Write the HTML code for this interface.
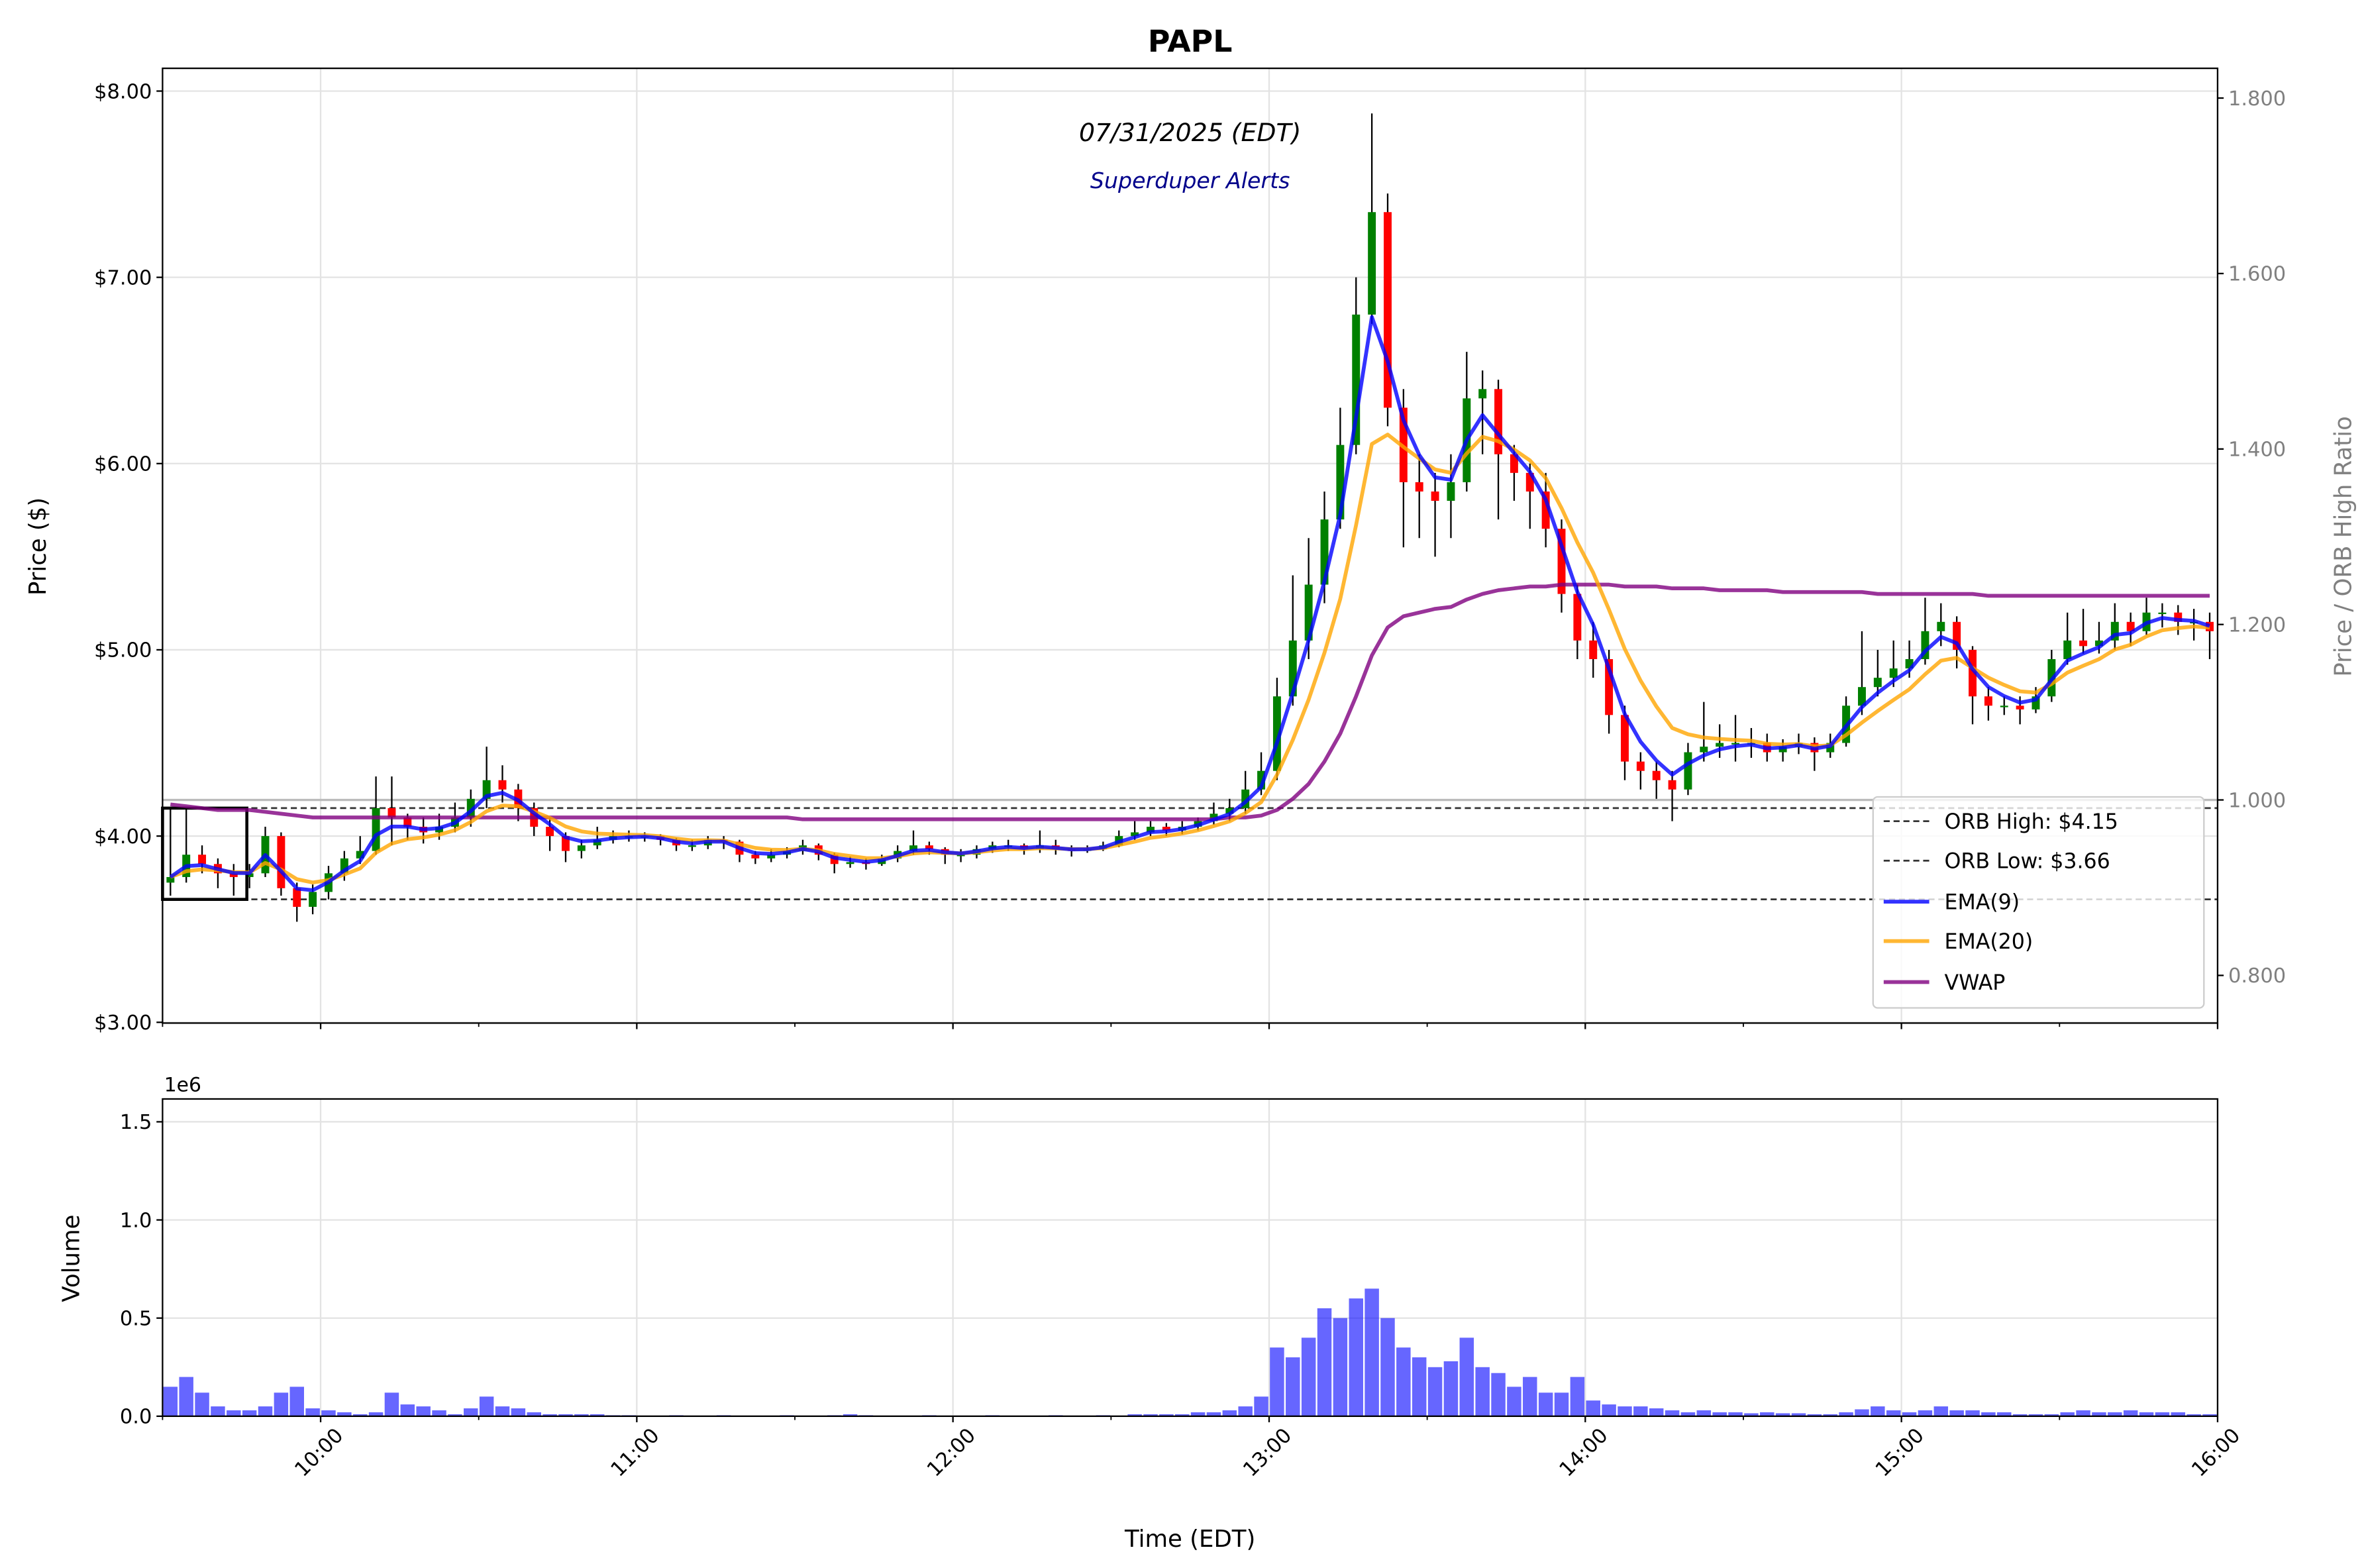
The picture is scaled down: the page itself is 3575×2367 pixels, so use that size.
<!DOCTYPE html>
<html><head><meta charset="utf-8"><title>PAPL</title>
<style>html,body{margin:0;padding:0;background:#fff}svg{display:block}text{font-family:"DejaVu Sans","Liberation Sans",sans-serif}</style>
</head><body>
<svg id="chart" width="3575" height="2367" viewBox="0 0 1560 1033" xmlns="http://www.w3.org/2000/svg">
<rect x="0" y="0" width="1560" height="1033" fill="#fff"/>
<g id="grid"></g>
<g id="marks"></g>
<g id="axes"></g>
<text x="784" y="34" text-anchor="middle" font-size="20" font-weight="bold">PAPL</text>
<text x="784" y="93" text-anchor="middle" font-size="16.5" font-style="italic">07/31/2025 (EDT)</text>
<text x="784" y="124" text-anchor="middle" font-size="14.5" font-style="italic" fill="#00008b">Superduper Alerts</text>
<text transform="translate(30,360) rotate(-90)" text-anchor="middle" font-size="15.5">Price ($)</text>
<text transform="translate(1549,360) rotate(-90)" text-anchor="middle" font-size="15.5" fill="#808080">Price / ORB High Ratio</text>
<text transform="translate(52,829) rotate(-90)" text-anchor="middle" font-size="15.5">Volume</text>
<text x="108" y="719" font-size="13">1e6</text>
<text x="784" y="1019" text-anchor="middle" font-size="15.5">Time (EDT)</text>
<g>
<rect x="1234" y="525" width="218" height="139" rx="3" fill="#fff" fill-opacity="0.8" stroke="#ccc" stroke-width="1"/>
<line x1="1241" y1="541" x2="1271" y2="541" stroke="#333" stroke-width="1.2" stroke-dasharray="4,2.5"/>
<text x="1281" y="546" font-size="13.8">ORB High: $4.15</text>
<line x1="1241" y1="567" x2="1271" y2="567" stroke="#333" stroke-width="1.2" stroke-dasharray="4,2.5"/>
<text x="1281" y="572" font-size="13.8">ORB Low: $3.66</text>
<line x1="1241" y1="594" x2="1271" y2="594" stroke="#0000ff" stroke-opacity="0.8" stroke-width="2.5"/>
<text x="1281" y="599" font-size="13.8">EMA(9)</text>
<line x1="1241" y1="620" x2="1271" y2="620" stroke="#ffa500" stroke-opacity="0.8" stroke-width="2.5"/>
<text x="1281" y="625" font-size="13.8">EMA(20)</text>
<line x1="1241" y1="647" x2="1271" y2="647" stroke="#800080" stroke-opacity="0.8" stroke-width="2.5"/>
<text x="1281" y="652" font-size="13.8">VWAP</text>
</g>
</svg>
<script>
const barMinutes = 3;
const closes = [3.78,3.90,3.85,3.80,3.78,3.80,4.00,3.72,3.62,3.70,
3.80,3.88,3.92,4.15,4.10,4.05,4.02,4.05,4.10,4.20,
4.30,4.25,4.15,4.05,4.00,3.92,3.95,3.98,4.00,4.00,
4.00,3.98,3.95,3.95,3.98,3.97,3.90,3.88,3.90,3.92,
3.95,3.90,3.85,3.86,3.85,3.88,3.92,3.95,3.93,3.90,
3.90,3.93,3.95,3.95,3.93,3.95,3.93,3.92,3.93,3.95,
4.00,4.02,4.05,4.03,4.05,4.08,4.12,4.15,4.25,4.35,
4.75,5.05,5.35,5.70,6.10,6.80,7.35,6.30,5.90,5.85,
5.80,5.90,6.35,6.40,6.05,5.95,5.85,5.65,5.30,5.05,
4.95,4.65,4.40,4.35,4.30,4.25,4.45,4.48,4.50,4.50,
4.50,4.45,4.48,4.50,4.45,4.50,4.70,4.80,4.85,4.90,
4.95,5.10,5.15,5.00,4.75,4.70,4.70,4.68,4.75,4.95,
5.05,5.02,5.05,5.15,5.10,5.20,5.20,5.15,5.15,5.10];
const highs = [4.15,4.15,3.95,3.88,3.85,3.85,4.05,4.02,3.75,3.74,
3.84,3.92,4.00,4.32,4.32,4.12,4.10,4.12,4.18,4.25,
4.48,4.38,4.28,4.18,4.10,4.02,3.98,4.05,4.03,4.03,
4.02,4.01,3.99,3.98,4.00,4.00,3.98,3.92,3.93,3.94,
3.98,3.96,3.91,3.89,3.88,3.90,3.95,4.03,3.97,3.94,
3.93,3.95,3.97,3.98,3.96,4.03,3.98,3.95,3.95,3.97,
4.03,4.08,4.08,4.07,4.08,4.10,4.18,4.20,4.35,4.45,
4.85,5.40,5.60,5.85,6.30,7.00,7.88,7.45,6.40,6.05,
5.95,6.05,6.60,6.50,6.45,6.10,6.00,5.95,5.70,5.35,
5.15,5.00,4.70,4.45,4.40,4.35,4.50,4.72,4.60,4.65,
4.58,4.55,4.52,4.55,4.53,4.55,4.75,5.10,5.00,5.05,
5.05,5.28,5.25,5.18,5.02,4.80,4.75,4.75,4.80,5.00,
5.20,5.22,5.15,5.25,5.20,5.28,5.25,5.24,5.22,5.20];
const lows = [3.68,3.75,3.80,3.72,3.68,3.72,3.78,3.68,3.54,3.58,
3.66,3.76,3.85,3.90,3.95,3.98,3.96,3.98,4.02,4.05,
4.15,4.18,4.08,4.00,3.92,3.86,3.88,3.93,3.96,3.97,
3.97,3.95,3.92,3.92,3.93,3.93,3.86,3.85,3.86,3.88,
3.90,3.87,3.80,3.83,3.82,3.84,3.86,3.90,3.90,3.85,
3.86,3.88,3.91,3.92,3.90,3.91,3.90,3.89,3.91,3.92,
3.94,3.98,4.00,4.00,4.01,4.03,4.06,4.08,4.12,4.22,
4.30,4.70,4.95,5.25,5.65,6.05,6.75,6.20,5.55,5.60,
5.50,5.60,5.85,6.05,5.70,5.80,5.65,5.55,5.20,4.95,
4.85,4.55,4.30,4.25,4.20,4.08,4.22,4.40,4.42,4.40,
4.42,4.40,4.40,4.44,4.35,4.42,4.48,4.65,4.75,4.80,
4.85,4.92,5.02,4.90,4.60,4.62,4.65,4.60,4.66,4.72,
4.92,4.98,4.98,5.00,5.02,5.08,5.12,5.08,5.05,4.95];
const volumes = [0.15,0.20,0.12,0.05,0.03,0.03,0.05,0.12,0.15,0.04,
0.03,0.02,0.01,0.02,0.12,0.06,0.05,0.03,0.01,0.04,
0.10,0.05,0.04,0.02,0.01,0.01,0.01,0.01,0.005,0.005,
0.003,0.003,0.005,0.003,0.003,0.005,0.003,0.003,0.003,0.005,
0.003,0.003,0.005,0.01,0.005,0.003,0.003,0.003,0.005,0.003,
0.003,0.003,0.005,0.003,0.003,0.003,0.005,0.003,0.003,0.005,
0.003,0.01,0.01,0.01,0.01,0.02,0.02,0.03,0.05,0.10,
0.35,0.30,0.40,0.55,0.50,0.60,0.65,0.50,0.35,0.30,
0.25,0.28,0.40,0.25,0.22,0.15,0.20,0.12,0.12,0.20,
0.08,0.06,0.05,0.05,0.04,0.03,0.02,0.03,0.02,0.02,
0.015,0.02,0.015,0.015,0.01,0.01,0.02,0.035,0.05,0.03,
0.02,0.03,0.05,0.03,0.03,0.02,0.02,0.01,0.01,0.01,
0.02,0.03,0.02,0.02,0.03,0.02,0.02,0.02,0.01,0.01];
const vwapValues = [4.17,4.16,4.15,4.14,4.14,4.14,4.13,4.12,4.11,4.10,
4.10,4.10,4.10,4.10,4.10,4.10,4.10,4.10,4.10,4.10,
4.10,4.10,4.10,4.10,4.10,4.10,4.10,4.10,4.10,4.10,
4.10,4.10,4.10,4.10,4.10,4.10,4.10,4.10,4.10,4.10,
4.09,4.09,4.09,4.09,4.09,4.09,4.09,4.09,4.09,4.09,
4.09,4.09,4.09,4.09,4.09,4.09,4.09,4.09,4.09,4.09,
4.09,4.09,4.09,4.09,4.09,4.09,4.09,4.10,4.10,4.11,
4.14,4.20,4.28,4.40,4.55,4.75,4.97,5.12,5.18,5.20,
5.22,5.23,5.27,5.30,5.32,5.33,5.34,5.34,5.35,5.35,
5.35,5.35,5.34,5.34,5.34,5.33,5.33,5.33,5.32,5.32,
5.32,5.32,5.31,5.31,5.31,5.31,5.31,5.31,5.30,5.30,
5.30,5.30,5.30,5.30,5.30,5.29,5.29,5.29,5.29,5.29,
5.29,5.29,5.29,5.29,5.29,5.29,5.29,5.29,5.29,5.29];
const firstOpen = 3.75;
const orbHigh = 4.15;
const orbLow = 3.66;
const orbMinutes = 16;
const priceTicks = [3,4,5,6,7,8];
const ratioTicks = [0.8,1.0,1.2,1.4,1.6,1.8];
const volumeTicks = [0,0.5,1.0,1.5];
const timeTickLabels = ["10:00","11:00","12:00","13:00","14:00","15:00","16:00"];
const timeTickMinutes = [30,90,150,210,270,330,390];
const minorTickMinutes = [60,120,180,240,300,360];

const NS = "http://www.w3.org/2000/svg";
const L = 107, R = 1461, PT = 45, PB = 674, VT = 724, VB = 933;
function xT(m){ return L + (m/390)*(R-L); }
function yP(p){ return 673.5 - (p-3)*122.7; }
function yR(r){ return 527 - (r-1)*578; }
function yV(v){ return VB - v*129.3; }
function mk(tag, attrs, parent){
  const e = document.createElementNS(NS, tag);
  for (const k in attrs) e.setAttribute(k, attrs[k]);
  parent.appendChild(e); return e;
}
const grid = document.getElementById('grid');
const marks = document.getElementById('marks');
const axes = document.getElementById('axes');

timeTickMinutes.forEach(m => {
  let g1 = mk('line',{x1:xT(m),x2:xT(m),y1:PT,y2:PB,stroke:'#e3e3e3','stroke-width':1},grid);
  
  
  let g2 = mk('line',{x1:xT(m),x2:xT(m),y1:VT,y2:VB,stroke:'#e3e3e3','stroke-width':1},grid);
  
  
});
priceTicks.forEach(p => {
  let g = mk('line',{x1:L,x2:R,y1:yP(p),y2:yP(p),stroke:'#e3e3e3','stroke-width':1},grid);
  
  
});
volumeTicks.forEach(v => {
  let g = mk('line',{x1:L,x2:R,y1:yV(v),y2:yV(v),stroke:'#e3e3e3','stroke-width':1},grid);
  
  
});

let refLine = mk('line',{x1:L,x2:R,y1:yR(1.0),y2:yR(1.0),stroke:'#bbb','stroke-width':1.5},marks);


let hiLine = mk('line',{x1:L,x2:R,y1:yP(orbHigh),y2:yP(orbHigh),stroke:'#333','stroke-width':1.2,'stroke-dasharray':'4,2.5'},marks);


let loLine = mk('line',{x1:L,x2:R,y1:yP(orbLow),y2:yP(orbLow),stroke:'#333','stroke-width':1.2,'stroke-dasharray':'4,2.5'},marks);



const bw = (barMinutes*(R-L)/390)*0.5;
closes.forEach((c,i) => {
  const o = i===0 ? firstOpen : closes[i-1];
  const xc = xT(i*barMinutes + barMinutes/2);
  let w = mk('line',{x1:xc,x2:xc,y1:yP(highs[i]),y2:yP(lows[i]),stroke:'#000','stroke-width':1},marks);
  
  
  const top = yP(Math.max(o,c)), bot = yP(Math.min(o,c));
  let b = mk('rect',{x:xc-bw/2,y:top,width:bw,height:Math.max(bot-top,1),fill:c>=o?'#008000':'#ff0000'},marks);
  
  
});

let box = mk('rect',{x:xT(0),y:yP(orbHigh),width:xT(orbMinutes)-xT(0),height:yP(orbLow)-yP(orbHigh),fill:'none',stroke:'#000','stroke-width':2},marks);



function ema(period){
  const a = 1 - Math.pow(1 - 2/(period+1), barMinutes);
  const out = []; let e = closes[0];
  closes.forEach((c,i)=>{ e = i===0 ? c : e + a*(c-e); out.push(e); });
  return out;
}
function linePath(vals){
  return vals.map((v,i)=> (i?'L':'M') + xT(i*barMinutes + barMinutes/2).toFixed(2) + ',' + yP(v).toFixed(2)).join(' ');
}
let vw = mk('path',{d:linePath(vwapValues),fill:'none',stroke:'#800080','stroke-opacity':0.8,'stroke-width':2.5,'stroke-linejoin':'round'},marks);


let e20 = mk('path',{d:linePath(ema(20)),fill:'none',stroke:'#ffa500','stroke-opacity':0.8,'stroke-width':2.5,'stroke-linejoin':'round'},marks);


let e9 = mk('path',{d:linePath(ema(9)),fill:'none',stroke:'#0000ff','stroke-opacity':0.8,'stroke-width':2.5,'stroke-linejoin':'round'},marks);



const vbw = barMinutes*(R-L)/390*0.9;
volumes.forEach((v,i)=>{
  const xc = xT(i*barMinutes + barMinutes/2);
  let r = mk('rect',{x:xc-vbw/2,y:yV(v),width:vbw,height:VB-yV(v),fill:'#0000ff','fill-opacity':0.6},marks);
  
  
});

let f1 = mk('rect',{x:L,y:PT,width:R-L,height:PB-PT,fill:'none',stroke:'#000','stroke-width':1},axes);


let f2 = mk('rect',{x:L,y:VT,width:R-L,height:VB-VT,fill:'none',stroke:'#000','stroke-width':1},axes);



priceTicks.forEach(p=>{
  mk('line',{x1:L-4,x2:L,y1:yP(p),y2:yP(p),stroke:'#000','stroke-width':1},axes);
  let t = mk('text',{x:L-7,y:yP(p)+4.7,'text-anchor':'end','font-size':13.3},axes);
  t.textContent = '$' + p.toFixed(2);
  
  
});
ratioTicks.forEach(r=>{
  mk('line',{x1:R,x2:R+4,y1:yR(r),y2:yR(r),stroke:'#000','stroke-width':1},axes);
  let t = mk('text',{x:R+7,y:yR(r)+4.7,'font-size':13.3,fill:'#808080'},axes);
  t.textContent = r.toFixed(3);
  
  
});
volumeTicks.forEach(v=>{
  mk('line',{x1:L-4,x2:L,y1:yV(v),y2:yV(v),stroke:'#000','stroke-width':1},axes);
  let t = mk('text',{x:L-7,y:yV(v)+4.7,'text-anchor':'end','font-size':13.3},axes);
  t.textContent = v.toFixed(1);
  
  
});
timeTickMinutes.forEach((m,i)=>{
  mk('line',{x1:xT(m),x2:xT(m),y1:PB,y2:PB+4,stroke:'#000','stroke-width':1},axes);
  mk('line',{x1:xT(m),x2:xT(m),y1:VB,y2:VB+4,stroke:'#000','stroke-width':1},axes);
  let t = mk('text',{transform:'translate('+(xT(m)+2)+','+(VB+27)+') rotate(-45)','text-anchor':'middle','font-size':13.3},axes);
  t.textContent = timeTickLabels[i];
  
  
});
[0].concat(minorTickMinutes).forEach(m=>{
  mk('line',{x1:xT(m),x2:xT(m),y1:PB,y2:PB+2.5,stroke:'#000','stroke-width':0.8},axes);
  mk('line',{x1:xT(m),x2:xT(m),y1:VB,y2:VB+2.5,stroke:'#000','stroke-width':0.8},axes);
});
</script>
</body></html>
